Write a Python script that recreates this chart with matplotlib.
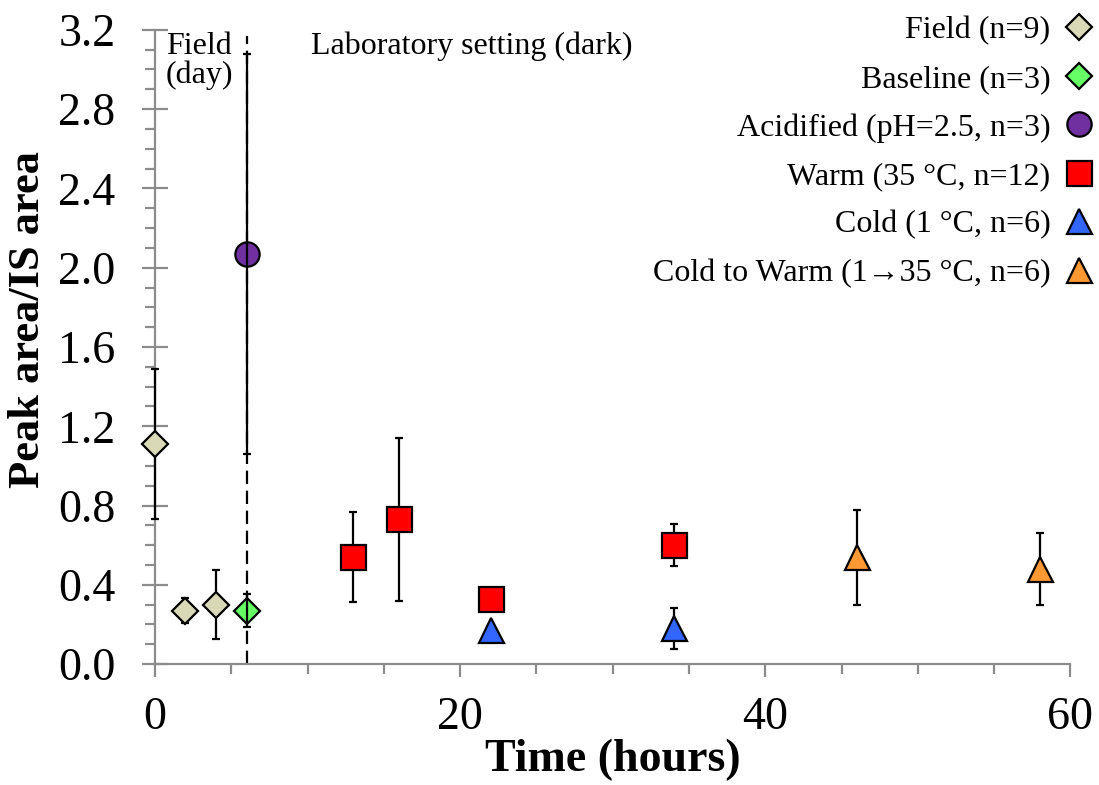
import numpy as np
import matplotlib
matplotlib.use("Agg")
import matplotlib.pyplot as plt
from matplotlib.lines import Line2D
from matplotlib.ticker import MultipleLocator

plt.rcParams['font.family'] = ['Liberation Serif', 'DejaVu Serif']

# Data (time in hours, peak area / IS area, error)
field_t = [0, 2, 4]
field_y = [1.11, 0.27, 0.30]
field_err = [0.38, 0.065, 0.175]

base_t = [6]
base_y = [0.27]
base_err = [0.085]

acid_t = [6]
acid_y = [2.07]
acid_err = [1.01]

warm_t = [13, 16, 22, 34]
warm_y = [0.54, 0.73, 0.33, 0.60]
warm_err = [0.225, 0.41, 0.0, 0.105]

cold_t = [22, 34]
cold_y = [0.17, 0.18]
cold_err = [0.0, 0.105]

c2w_t = [46, 58]
c2w_y = [0.54, 0.48]
c2w_err = [0.24, 0.18]

series = [
    ("Field (n=9)", field_t, field_y, field_err, "D", "#D9D9B8", 13.5, False),
    ("Baseline (n=3)", base_t, base_y, base_err, "D", "#66FF66", 13.5, True),
    ("Acidified (pH=2.5, n=3)", acid_t, acid_y, acid_err, "o", "#7030A0", 17.5, True),
    ("Warm (35 \u00b0C, n=12)", warm_t, warm_y, warm_err, "s", "#FF0000", 18, False),
    ("Cold (1 \u00b0C, n=6)", cold_t, cold_y, cold_err, "^", "#3366FF", 18, False),
    ("Cold to Warm (1\u219235 \u00b0C, n=6)", c2w_t, c2w_y, c2w_err, "^", "#FF9933", 18, False),
]

fig = plt.figure(figsize=(10.99, 7.85), dpi=100)
ax = fig.add_axes([0.141, 0.154, 0.833, 0.808])

handles = []
for label, t, y, err, mk, col, ms, bar_on_top in series:
    eb = ax.errorbar(t, y, yerr=err, fmt="none", ecolor="black", elinewidth=1.6,
                     capsize=3, capthick=1.6, zorder=5 if bar_on_top else 3)
    for art in eb.lines[1] + eb.lines[2]:
        art.set_clip_on(False)
    ax.plot(t, y, linestyle="none", marker=mk, markersize=ms, markerfacecolor=col,
            markeredgecolor="black", markeredgewidth=1.6, zorder=4, clip_on=False)
    handles.append(Line2D([], [], linestyle="none", marker=mk, markersize=ms,
                          markerfacecolor=col, markeredgecolor="black",
                          markeredgewidth=1.6, label=label))

ax.axvline(6, ymin=0, ymax=0.99, color="black", linestyle=(0, (6, 3)), linewidth=1.6, zorder=1)

ax.set_xlim(0, 60)
ax.set_ylim(0, 3.2)
ax.xaxis.set_major_locator(MultipleLocator(20))
ax.xaxis.set_minor_locator(MultipleLocator(5))
ax.yaxis.set_major_locator(MultipleLocator(0.4))
ax.yaxis.set_minor_locator(MultipleLocator(0.1))
ax.yaxis.set_major_formatter(matplotlib.ticker.FormatStrFormatter("%.1f"))

for s in ["top", "right"]:
    ax.spines[s].set_visible(False)
for s in ["left", "bottom"]:
    ax.spines[s].set_color("#8c8c8c")
    ax.spines[s].set_linewidth(1.6)

ax.tick_params(axis="y", which="major", direction="inout", length=19, width=1.6,
               color="#8c8c8c", labelsize=33, pad=19)
ax.tick_params(axis="y", which="minor", direction="out", length=7, width=1.6, color="#8c8c8c")
ax.tick_params(axis="x", which="major", direction="out", length=9, width=1.6,
               color="#8c8c8c", labelsize=33, pad=14)
ax.tick_params(axis="x", which="minor", direction="out", length=7, width=1.6, color="#8c8c8c")

ax.set_xlabel("Time (hours)", fontsize=33, fontweight="bold", labelpad=0)
ax.set_ylabel("Peak area/IS area", fontsize=32, fontweight="bold")
ax.yaxis.set_label_coords(-0.117, 0.543)

ax.text(0.7, 3.19, "Field\n(day)", fontsize=23, ha="left", va="top", linespacing=1.0)
ax.text(10.2, 3.19, "Laboratory setting (dark)", fontsize=23, ha="left", va="top")

fig.legend(handles=handles, loc="upper right", bbox_to_anchor=(1.011, 1.0),
           frameon=False, markerfirst=False, fontsize=23, handlelength=1.0,
           handletextpad=0.4, labelspacing=0.6, borderaxespad=0.1)

fig.savefig("out.png", dpi=100)
